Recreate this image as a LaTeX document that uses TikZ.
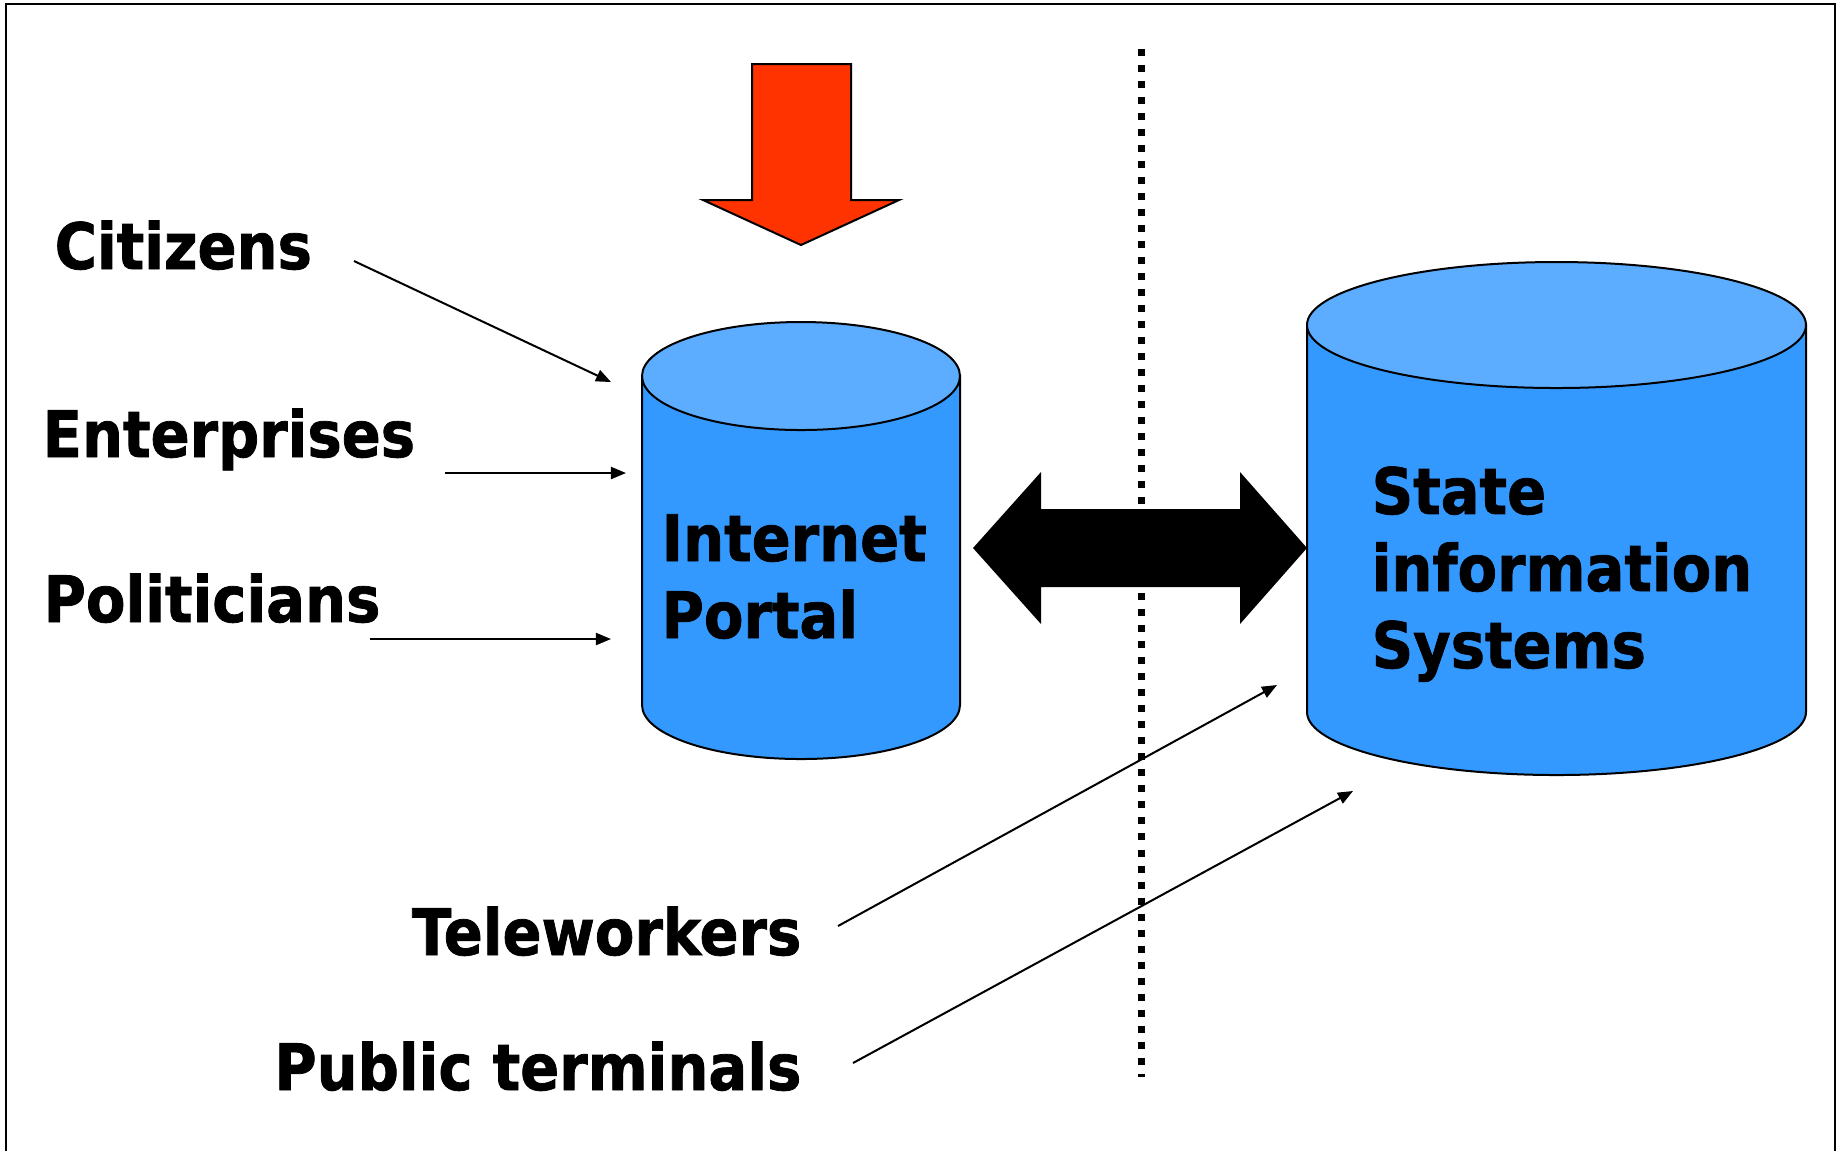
\documentclass[tikz,border=0pt]{standalone}
\usepackage{fontspec}
\setmainfont{DejaVu Sans}[FakeStretch=0.9, BoldFeatures={FakeBold=1.2}]
\usetikzlibrary{arrows.meta}

\definecolor{sideblue}{RGB}{51,153,255}
\definecolor{lidblue}{RGB}{92,172,255}
\definecolor{alertred}{RGB}{255,51,0}

\tikzset{
  lbl/.style={font=\fontsize{18.2}{21.9}\selectfont\bfseries, inner sep=0pt, align=left},
  feed/.style={line width=0.02cm, -{Triangle[length=0.15cm,width=0.12cm]}},
  side/.style={fill=sideblue, draw=black, line width=0.02cm},
  lid/.style={fill=lidblue, draw=black, line width=0.02cm},
}

\begin{document}
\begin{tikzpicture}[x=0.01cm, y=-0.01cm]
  \useasboundingbox (0,0) rectangle (1845,1150);
  % frame, open at the bottom
  \draw[line width=0.025cm] (6,1160) -- (6,4) -- (1835,4) -- (1835,1160);

  % dotted separator
  \draw[line width=0.07cm, dash pattern=on 0.07cm off 0.09cm] (1141,49) -- (1141,1077);

  % red arrow on top of the portal
  \filldraw[fill=alertred, draw=black, line width=0.02cm]
    (752,64) -- (851,64) -- (851,200) -- (899,200) -- (801,245)
    -- (703,200) -- (752,200) -- cycle;

  % portal cylinder
  \filldraw[side] (642,376) -- (642,705) arc[start angle=180, end angle=0, x radius=159, y radius=54]
    -- (960,376) -- cycle;
  \filldraw[lid] (801,376) ellipse[x radius=159, y radius=54];
  \node[lbl, anchor=base west] (portal) at (661,638) {Internet\\Portal};

  % state systems cylinder
  \filldraw[side] (1307,325) -- (1307,712) arc[start angle=180, end angle=0, x radius=249.5, y radius=63]
    -- (1806,325) -- cycle;
  \filldraw[lid] (1556.5,325) ellipse[x radius=249.5, y radius=63];
  \node[lbl, anchor=base west] (state) at (1371,668) {State\\information\\Systems};

  % two-way link
  \fill (973,548) -- (1041,472) -- (1041,509) -- (1240,509) -- (1240,472) -- (1307,548)
    -- (1240,624) -- (1240,587) -- (1041,587) -- (1041,624) -- cycle;

  % users
  \node[lbl, anchor=base west] (citizens) at (54,269) {Citizens};
  \node[lbl, anchor=base west] (enterprises) at (42,457) {Enterprises};
  \node[lbl, anchor=base west] (politicians) at (43,622) {Politicians};
  \node[lbl, anchor=base east] (teleworkers) at (802,955) {Teleworkers};
  \node[lbl, anchor=base east] (terminals) at (802,1090) {Public terminals};

  \coordinate (c1) at (354,261);  \coordinate (c2) at (611,382);
  \coordinate (e1) at (445,473);  \coordinate (e2) at (626,473);
  \coordinate (p1) at (370,639);  \coordinate (p2) at (611,639);
  \coordinate (t1) at (838,926);  \coordinate (t2) at (1277,685);
  \coordinate (u1) at (853,1063); \coordinate (u2) at (1353,791);

  \draw[feed] (c1) -- (c2);
  \draw[feed] (e1) -- (e2);
  \draw[feed] (p1) -- (p2);
  \draw[feed] (t1) -- (t2);
  \draw[feed] (u1) -- (u2);
\end{tikzpicture}
\end{document}
